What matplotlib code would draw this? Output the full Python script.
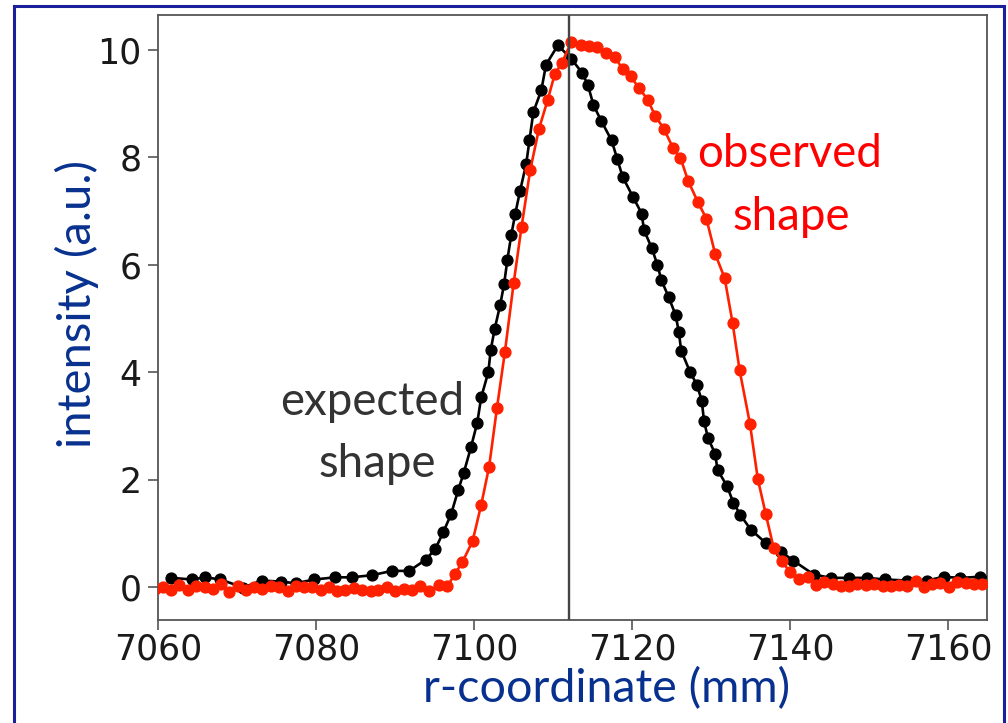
import matplotlib
matplotlib.use("Agg")
import matplotlib.pyplot as plt
from matplotlib.patches import Rectangle

# ---------------- data ----------------
expected_x = [7061.7, 7064.3, 7066.0, 7067.9, 7070.8, 7073.1, 7075.6, 7077.4, 7079.8, 7082.4,
              7084.5, 7087.1, 7089.6, 7091.8, 7093.9, 7095.1, 7096.1, 7097.1, 7098.0, 7098.7,
              7099.6, 7100.4, 7100.9, 7101.8, 7102.1, 7102.6, 7103.3, 7103.8, 7104.2, 7104.7,
              7105.2, 7105.8, 7106.6, 7107.0, 7107.5, 7108.5, 7109.1, 7110.6, 7112.3, 7113.7,
              7114.4, 7115.1, 7116.1, 7117.4, 7118.1, 7118.8, 7120.1, 7121.2, 7121.5, 7122.5,
              7123.2, 7123.7, 7124.6, 7125.5, 7125.9, 7126.2, 7127.3, 7128.2, 7128.8, 7129.1,
              7129.6, 7130.5, 7130.8, 7132.0, 7132.8, 7133.7, 7135.0, 7136.9, 7138.8, 7140.4,
              7143.0, 7145.2, 7147.5, 7149.7, 7152.0, 7154.8, 7157.3, 7159.4, 7161.5, 7164.0,
              7166.0]
expected_y = [0.17, 0.14, 0.18, 0.14, -0.01, 0.12, 0.10, 0.07, 0.14, 0.18,
              0.18, 0.22, 0.30, 0.30, 0.51, 0.71, 1.02, 1.36, 1.81, 2.13,
              2.60, 3.06, 3.53, 4.00, 4.41, 4.80, 5.25, 5.64, 6.08, 6.55,
              6.94, 7.36, 7.88, 8.31, 8.84, 9.24, 9.72, 10.08, 9.83, 9.56,
              9.34, 8.97, 8.67, 8.31, 7.97, 7.63, 7.26, 6.95, 6.64, 6.30,
              5.99, 5.71, 5.40, 5.06, 4.75, 4.40, 4.01, 3.76, 3.47, 3.08,
              2.77, 2.48, 2.18, 1.88, 1.57, 1.34, 1.07, 0.82, 0.66, 0.49,
              0.23, 0.17, 0.17, 0.17, 0.14, 0.12, 0.12, 0.19, 0.17, 0.19,
              0.17]

observed_x = [7059.6,
              7060.6, 7061.7, 7062.7, 7063.8, 7064.8, 7065.9, 7066.9, 7068.0, 7069.0, 7070.1,
              7071.1, 7072.2, 7073.2, 7074.3, 7075.3, 7076.4, 7077.4, 7078.5, 7079.5, 7080.6,
              7081.6, 7082.7, 7083.7, 7084.8, 7085.8, 7086.9, 7087.9, 7089.0, 7090.0, 7091.1,
              7092.1, 7093.2, 7094.3, 7095.5, 7096.6, 7097.6, 7098.5, 7099.8, 7100.9, 7101.9,
              7102.9, 7103.9, 7105.0, 7106.0, 7107.1, 7108.2, 7109.3, 7110.2, 7111.1, 7112.3,
              7113.5, 7114.5, 7115.5, 7116.7, 7117.8, 7118.8, 7119.8, 7120.9, 7122.0, 7122.9,
              7124.0, 7125.2, 7126.1, 7127.1, 7128.3, 7129.4, 7130.5, 7131.7, 7132.7, 7133.6,
              7134.9, 7135.9, 7136.9, 7137.9, 7138.9, 7140.0, 7141.1, 7142.2, 7143.3, 7144.3,
              7145.4, 7146.4, 7147.5, 7148.5, 7149.6, 7150.6, 7151.7, 7152.7, 7153.8, 7154.8,
              7155.9, 7156.9, 7158.0, 7159.0, 7160.1, 7161.1, 7162.2, 7163.2, 7164.3]
observed_y = [-0.04,
              0.00, -0.06, 0.03, -0.06, 0.02, 0.00, -0.04, 0.05, -0.10, 0.02,
              -0.06, 0.00, -0.04, 0.02, 0.00, -0.08, 0.02, 0.00, 0.00, -0.06,
              0.00, -0.08, -0.05, -0.02, -0.05, -0.08, -0.06, 0.00, -0.08, -0.04,
              -0.05, 0.01, -0.08, 0.04, 0.01, 0.25, 0.46, 0.85, 1.53, 2.24,
              3.34, 4.38, 5.65, 6.70, 7.76, 8.52, 9.06, 9.54, 9.75, 10.14,
              10.08, 10.06, 10.05, 9.94, 9.86, 9.64, 9.50, 9.28, 9.06, 8.77,
              8.53, 8.16, 7.99, 7.55, 7.17, 6.85, 6.20, 5.75, 4.92, 4.03,
              3.04, 2.01, 1.36, 0.73, 0.49, 0.27, 0.15, 0.19, 0.04, 0.10,
              0.06, 0.01, 0.01, 0.06, 0.04, 0.06, 0.02, 0.02, 0.04, 0.01,
              0.12, 0.00, 0.06, 0.07, 0.00, 0.09, 0.07, 0.06, 0.06]

peak_line_x = 7112.0
x_ticks = [7060, 7080, 7100, 7120, 7140, 7160]
y_ticks = [0, 2, 4, 6, 8, 10]

# ---------------- figure ----------------
W, H = 1008, 723
fig = plt.figure(figsize=(W / 100, H / 100), dpi=100)
fig.patch.set_facecolor("white")

def fx(px):
    return px / W

def fy(py):
    return 1 - py / H

ax = fig.add_axes([fx(158), fy(620), (987 - 158) / W, (620 - 15) / H])

ax.plot(expected_x, expected_y, color="black", lw=1.9, marker="o", ms=7.8,
        zorder=3, clip_on=True)
ax.plot(observed_x, observed_y, color="#ff2000", lw=1.9, marker="o", ms=7.8,
        zorder=4, clip_on=True)
ax.axvline(peak_line_x, color="#444444", lw=1.7, zorder=5)

ax.set_xlim(7060, 7164.9)
ax.set_ylim(-0.614, 10.644)
ax.set_xticks(x_ticks)
ax.set_yticks(y_ticks)
ax.tick_params(axis="both", labelsize=25, colors="#555555", labelcolor="#1a1a1a",
               length=7, width=1.2)
ax.tick_params(axis="x", pad=2)
ax.tick_params(axis="y", pad=5)
for s in ax.spines.values():
    s.set_color("#555555")
    s.set_linewidth(1.3)

ann_font = ["Lato", "DejaVu Sans"]
navy = "#08318f"

t_exp1 = fig.text(fx(372), fy(415), "expected", ha="center", va="baseline",
                  color="#333333", family=ann_font, fontsize=30)
t_exp2 = fig.text(fx(377.5), fy(476.7), "shape", ha="center", va="baseline",
                  color="#333333", family=ann_font, fontsize=30)
t_obs1 = fig.text(fx(790), fy(166.7), "observed", ha="center", va="baseline",
                  color="#ff0000", family=ann_font, fontsize=30)
t_obs2 = fig.text(fx(791), fy(230), "shape", ha="center", va="baseline",
                  color="#ff0000", family=ann_font, fontsize=30)
t_xl = fig.text(fx(423.3), fy(702.5), "r-coordinate (mm)", ha="left", va="baseline",
                color=navy, family=ann_font, fontsize=30)
t_yl = fig.text(fx(77), fy(304), "intensity (a.u.)", ha="center", va="center",
                rotation=90, color=navy, family=ann_font, fontsize=30)

# fit text sizes to measured widths in the reference
fig.canvas.draw()
r = fig.canvas.get_renderer()
def fit(t, target, vertical=False):
    bb = t.get_window_extent(r)
    w = bb.height if vertical else bb.width
    return t.get_fontsize() * target / w

s_exp = fit(t_exp1, 184)
t_exp1.set_fontsize(s_exp); t_exp2.set_fontsize(s_exp)
s_obs = fit(t_obs1, 185)
t_obs1.set_fontsize(s_obs); t_obs2.set_fontsize(s_obs)
t_xl.set_fontsize(fit(t_xl, 368))
t_yl.set_fontsize(fit(t_yl, 288, vertical=True))

# blue outer border
fig.patches.append(Rectangle((fx(14), fy(740)), fx(1003.5) - fx(14), fy(6.5) - fy(740),
                             transform=fig.transFigure, fill=False,
                             edgecolor="#1a1f9c", lw=2.2, zorder=10))

fig.savefig("out.png", dpi=100, facecolor="white")
